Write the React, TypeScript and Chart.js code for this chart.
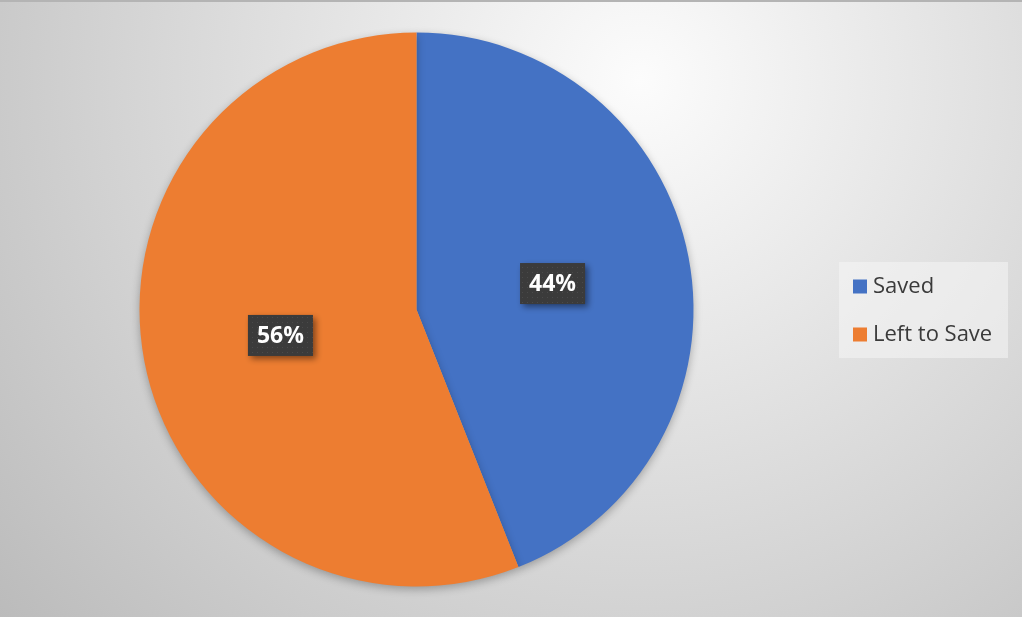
import React, { useEffect, useRef } from "react";
import { Chart, registerables } from "chart.js";

Chart.register(...registerables);

const categories = ["Saved", "Left to Save"];
const values = [44, 56];
const colors = ["#4472C4", "#ED7D31"];

const W = 1022;
const H = 617;

function makePattern(ctx: CanvasRenderingContext2D) {
  const c = document.createElement("canvas");
  c.width = 5;
  c.height = 5;
  const p = c.getContext("2d")!;
  p.fillStyle = "#3b3b3b";
  p.fillRect(0, 0, 5, 5);
  p.fillStyle = "#4a4a4a";
  p.fillRect(2, 2, 1, 1);
  return ctx.createPattern(c, "repeat") || "#3b3b3b";
}

const backgroundPlugin = {
  id: "bgPlugin",
  beforeDraw(chart: any) {
    const ctx = chart.ctx as CanvasRenderingContext2D;
    ctx.save();
    const g = ctx.createRadialGradient(640, 80, 0, 640, 80, 850);
    g.addColorStop(0, "#fcfcfc");
    g.addColorStop(1, "#bababa");
    ctx.fillStyle = g;
    ctx.fillRect(0, 0, W, H);
    ctx.fillStyle = "#b4b4b4";
    ctx.fillRect(0, 0, W, 2);
    ctx.restore();
  },
  beforeDatasetsDraw(chart: any) {
    const ctx = chart.ctx as CanvasRenderingContext2D;
    ctx.save();
    ctx.shadowColor = "rgba(0,0,0,0.28)";
    ctx.shadowBlur = 8;
    ctx.shadowOffsetX = 0;
    ctx.shadowOffsetY = 3;
  },
  afterDatasetsDraw(chart: any) {
    const ctx = chart.ctx as CanvasRenderingContext2D;
    ctx.restore();
  },
};

const labelPlugin = {
  id: "labelPlugin",
  afterDatasetsDraw(chart: any) {
    const ctx = chart.ctx as CanvasRenderingContext2D;
    const meta = chart.getDatasetMeta(0);
    const data = chart.data.datasets[0].data as number[];
    const total = data.reduce((a, b) => a + b, 0);
    const pattern = makePattern(ctx);
    meta.data.forEach((arc: any, i: number) => {
      const pos = arc.tooltipPosition();
      const txt = Math.round((data[i] / total) * 100) + "%";
      ctx.save();
      ctx.font = "bold 23px 'Open Sans'";
      const tw = ctx.measureText(txt).width;
      const bw = tw + 18;
      const bh = 41;
      const bx = pos.x - bw / 2;
      const by = pos.y - bh / 2;
      ctx.shadowColor = "rgba(0,0,0,0.45)";
      ctx.shadowBlur = 6;
      ctx.shadowOffsetX = 3;
      ctx.shadowOffsetY = 3;
      ctx.fillStyle = pattern as any;
      ctx.fillRect(bx, by, bw, bh);
      ctx.shadowColor = "transparent";
      ctx.fillStyle = "#ffffff";
      ctx.textAlign = "center";
      ctx.textBaseline = "middle";
      ctx.fillText(txt, pos.x, pos.y + 1);
      ctx.restore();
    });
  },
};

const legendPlugin = {
  id: "customLegend",
  afterDraw(chart: any) {
    const ctx = chart.ctx as CanvasRenderingContext2D;
    const labels = chart.data.labels as string[];
    const cols = chart.data.datasets[0].backgroundColor as string[];
    ctx.save();
    ctx.fillStyle = "rgba(245,245,245,0.55)";
    ctx.fillRect(839, 262, 169, 96);
    ctx.font = "22px 'Open Sans'";
    ctx.textBaseline = "middle";
    ctx.textAlign = "left";
    labels.forEach((lab, i) => {
      const cy = 286.5 + i * 48;
      ctx.fillStyle = cols[i];
      ctx.fillRect(853, cy - 7, 14, 14);
      ctx.fillStyle = "#3a3a3a";
      ctx.fillText(lab, 873, cy);
    });
    ctx.restore();
  },
};

export default function App() {
  const ref = useRef<HTMLCanvasElement | null>(null);
  useEffect(() => {
    document.body.style.margin = "0";
    const canvas = ref.current!;
    const chart = new Chart(canvas, {
      type: "pie",
      data: {
        labels: categories,
        datasets: [
          {
            data: values,
            backgroundColor: colors,
            borderWidth: 0,
          },
        ],
      },
      options: {
        responsive: false,
        animation: false,
        layout: { padding: { left: 139.5, right: 328.5, top: 32, bottom: 30 } },
        plugins: {
          legend: { display: false },
          tooltip: { enabled: false },
        },
      },
      plugins: [backgroundPlugin, labelPlugin, legendPlugin],
    });
    return () => chart.destroy();
  }, []);
  return (
    <div style={{ width: W, height: H }}>
      <canvas ref={ref} width={W} height={H} style={{ display: "block" }} />
    </div>
  );
}
